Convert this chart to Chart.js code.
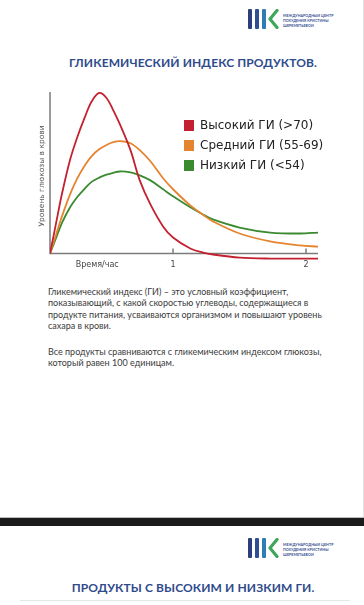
<!DOCTYPE html>
<html>
<head>
<meta charset="utf-8">
<script src="https://cdn.jsdelivr.net/npm/chart.js@4.4.1/dist/chart.umd.min.js"></script>
<style>
  html, body { margin:0; padding:0; background:#fff; width:364px; height:605px; overflow:hidden; }
  body { position:relative; font-family: Lato, "Open Sans", sans-serif; }
  .abs { position:absolute; }
  .logo { position:absolute; width:95px; height:22px; }
  .logo .bar { position:absolute; top:0; width:3.5px; height:20px; border-radius:1px; }
  .logo .txt { position:absolute; left:35px; top:4px; font-family: Lato, sans-serif; font-weight:700; font-size:3.6px; line-height:5px; color:#33508f; white-space:nowrap; letter-spacing:0.05px; }
  .title { position:absolute; left:22px; width:342px; text-align:center; font-family: Lato, sans-serif; font-weight:700; font-size:12px; color:#2f4b8c; letter-spacing:0.1px; }
  .para { position:absolute; left:48px; font-family: Lato, sans-serif; font-size:9px; line-height:11.3px; color:#3a3a3a; white-space:nowrap; }
  #legend { position:absolute; left:184px; top:115px; font-family:"DejaVu Sans", Verdana, sans-serif; font-size:12px; color:#222; }
  #legend .row { height:20px; display:flex; align-items:center; white-space:nowrap; }
  #legend .box { width:10px; height:11px; margin-right:6px; }
</style>
</head>
<body>
<!-- slide 1 -->
<div class="abs" style="left:363px;top:0;width:1px;height:517px;background:#e4e4e4;"></div>
<div class="logo" style="left:248px;top:9px;">
  <div class="bar" style="left:0;background:#2b3f7f;"></div>
  <div class="bar" style="left:7px;background:#2f4f93;"></div>
  <div class="bar" style="left:14px;background:#2f7db5;"></div>
  <svg style="position:absolute;left:19px;top:0;" width="12" height="20" viewBox="0 0 12 20"><polyline points="10,1.5 3,10 10,18.5" fill="none" stroke="#3fa65a" stroke-width="3.2" stroke-linecap="round" stroke-linejoin="round"/></svg>
  <div class="txt">МЕЖДУНАРОДНЫЙ ЦЕНТР<br>ПОХУДЕНИЯ КРИСТИНЫ<br>ШЕРЕМЕТЬЕВОЙ</div>
</div>
<div class="title" style="top:55px;">ГЛИКЕМИЧЕСКИЙ ИНДЕКС ПРОДУКТОВ.</div>

<div class="abs" style="left:0;top:80px;width:364px;height:200px;"><canvas id="c" width="364" height="200"></canvas></div>
<div id="legend"></div>

<div class="para" style="top:286px;">Гликемический индекс (ГИ) – это условный коэффициент,<br>показывающий, с какой скоростью углеводы, содержащиеся в<br>продукте питания, усваиваются организмом и повышают уровень<br>сахара в крови.</div>
<div class="para" style="top:346px;">Все продукты сравниваются с гликемическим индексом глюкозы,<br>который равен 100 единицам.</div>

<!-- separator -->
<div class="abs" style="left:0;top:517px;width:364px;height:1px;background:#bdbdbd;"></div>
<div class="abs" style="left:0;top:518px;width:364px;height:8px;background:#1b1b1b;"></div>

<!-- slide 2 -->
<div class="logo" style="left:248px;top:538px;">
  <div class="bar" style="left:0;background:#2b3f7f;"></div>
  <div class="bar" style="left:7px;background:#2f4f93;"></div>
  <div class="bar" style="left:14px;background:#2f7db5;"></div>
  <svg style="position:absolute;left:19px;top:0;" width="12" height="20" viewBox="0 0 12 20"><polyline points="10,1.5 3,10 10,18.5" fill="none" stroke="#3fa65a" stroke-width="3.2" stroke-linecap="round" stroke-linejoin="round"/></svg>
  <div class="txt">МЕЖДУНАРОДНЫЙ ЦЕНТР<br>ПОХУДЕНИЯ КРИСТИНЫ<br>ШЕРЕМЕТЬЕВОЙ</div>
</div>
<div class="title" style="top:580px;">ПРОДУКТЫ С ВЫСОКИМ И НИЗКИМ ГИ.</div>
<div class="abs" style="left:20px;top:600px;width:330px;height:1px;background:#e6e6e6;"></div>

<script>
// ---- data ----
const hours = [0.075,0.12,0.165,0.225,0.28,0.34,0.39,0.445,0.5,0.55,0.6,0.68,0.75,0.83,0.925,1.0,1.13,1.225,1.3,1.5,1.73,1.955,2.09];
const highGI = [0,18.5,37,57.8,72,85.1,94.4,99.4,96.3,88.8,80.1,64,45.3,30.4,16.8,9.9,3.1,0.6,-0.6,-2.5,-3.1,-3.1,-3.1];
const midGI  = [0,11.5,23,36.5,46.5,55,60.5,64.5,67.2,68.9,69.6,68.3,64,57.1,46.6,39.8,29.8,24,19.9,12.4,7.5,5,4.3];
const lowGI  = [0,9.5,19,28.5,35,40.5,44.5,47,48.8,50,50.8,50.3,48.4,45.3,39.8,35.4,28.6,24.2,21.1,16.1,13,12.4,13];
const seriesLabels = ['Высокий ГИ (>70)','Средний ГИ (55-69)','Низкий ГИ (<54)'];
const tickValues = [0.43, 1, 2];
const tickLabels = ['Время/час', '1', '2'];
const tickMarks = [1, 2];
const yTitle = 'Уровень глюкозы в крови';

const colors = ['#c3212f', '#e5842f', '#3a8a30'];
const series = [highGI, midGI, lowGI];

const axesPlugin = {
  id: 'axesLines',
  beforeDatasetsDraw(chart) {
    const {ctx, scales:{x, y}} = chart;
    const y0 = y.getPixelForValue(0);
    const yTop = y.getPixelForValue(y.max);
    const xl = x.getPixelForValue(x.min);
    const xr = x.getPixelForValue(x.max);
    ctx.save();
    ctx.strokeStyle = '#7b7b7b';
    ctx.lineWidth = 1.5;
    ctx.beginPath();
    ctx.moveTo(xl, yTop);
    ctx.lineTo(xl, y0);
    ctx.lineTo(xr, y0);
    tickMarks.forEach(v => {
      const px = x.getPixelForValue(v);
      ctx.moveTo(px, y0);
      ctx.lineTo(px, y0 - 5);
    });
    ctx.stroke();
    ctx.restore();
  }
};

const chart = new Chart(document.getElementById('c'), {
  type: 'line',
  data: {
    datasets: series.map((s, i) => ({
      label: seriesLabels[i],
      data: s.map((v, k) => ({x: hours[k], y: v})),
      borderColor: colors[i],
      backgroundColor: colors[i],
      borderWidth: 1.8,
      pointRadius: 0,
      tension: 0.35,
      fill: false
    }))
  },
  options: {
    responsive: false,
    animation: false,
    layout: { padding: { left: 38, top: 12, right: 46, bottom: 6 } },
    plugins: { legend: { display: false }, tooltip: { enabled: false } },
    scales: {
      x: {
        type: 'linear',
        min: 0.075, max: 2.09,
        border: { display: false },
        grid: { display: false, drawTicks: false },
        afterBuildTicks: (scale) => { scale.ticks = tickValues.map(v => ({value: v})); },
        afterFit: (scale) => { scale.height = 14; },
        ticks: {
          padding: 0,
          autoSkip: false,
          maxRotation: 0,
          color: '#444',
          font: { family: 'DejaVu Sans', size: 8 },
          callback: (v, i) => tickLabels[i]
        }
      },
      y: {
        min: -4, max: 100,
        border: { display: false },
        grid: { display: false, drawTicks: false },
        ticks: { display: false },
        afterFit: (scale) => { scale.width = 12; },
        title: {
          display: true,
          text: yTitle,
          color: '#555',
          padding: 0,
          font: { family: 'DejaVu Sans', size: 7.5 }
        }
      }
    }
  },
  plugins: [axesPlugin]
});

// HTML legend from the chart's datasets
const legend = document.getElementById('legend');
chart.data.datasets.forEach(ds => {
  const row = document.createElement('div');
  row.className = 'row';
  const box = document.createElement('span');
  box.className = 'box';
  box.style.background = ds.borderColor;
  const t = document.createElement('span');
  t.textContent = ds.label;
  row.appendChild(box); row.appendChild(t);
  legend.appendChild(row);
});
</script>
</body>
</html>
